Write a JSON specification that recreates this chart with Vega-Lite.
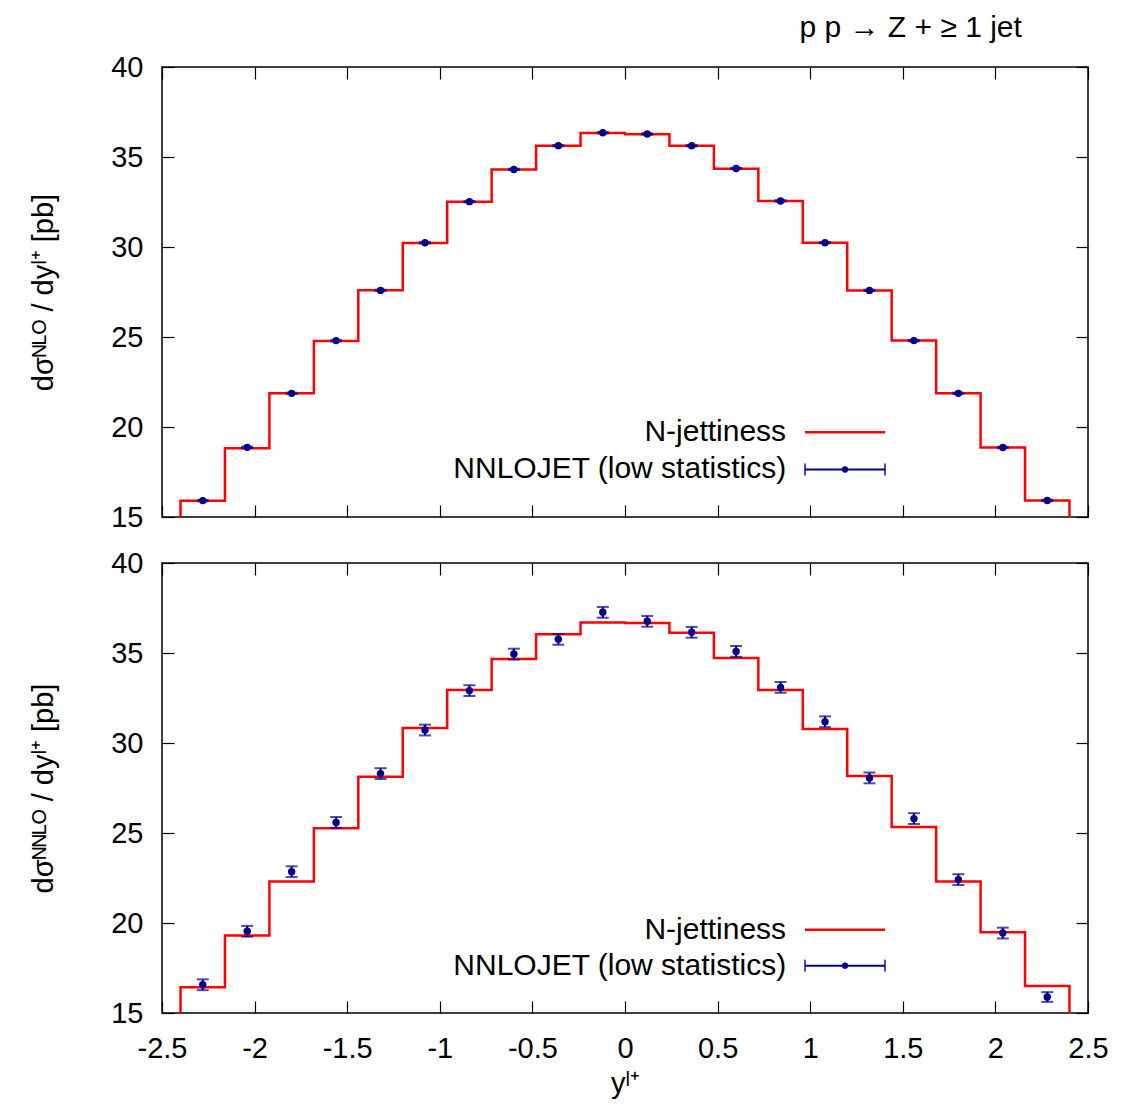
{
  "$schema": "https://vega.github.io/schema/vega-lite/v6.json",
  "padding": {"left": 28, "top": 13, "right": 10, "bottom": 0},
  "config": {
    "font": "Liberation Sans",
    "view": {"stroke": "black", "strokeWidth": 1.5},
    "axis": {
      "grid": false,
      "domain": false,
      "tickColor": "black",
      "tickWidth": 1.2,
      "tickSize": -12,
      "labelFlush": false,
      "labelColor": "black",
      "labelFontSize": 29,
      "titleFontSize": 29,
      "titleFontWeight": "normal",
      "titleColor": "black"
    }
  },
  "title": {
    "text": "p p → Z + ≥ 1 jet",
    "anchor": "end",
    "fontSize": 30,
    "fontWeight": "normal",
    "color": "black",
    "dx": -87,
    "offset": 9
  },
  "spacing": 46,
  "bounds": "flush",
  "datasets": {
    "nlo_hist": [
      {"x": -2.4, "y": 15}, {"x": -2.4, "y": 15.9}, {"x": -2.16, "y": 18.82}, {"x": -1.92, "y": 21.87},
      {"x": -1.68, "y": 24.78}, {"x": -1.44, "y": 27.6}, {"x": -1.2, "y": 30.22}, {"x": -0.96, "y": 32.52},
      {"x": -0.72, "y": 34.3}, {"x": -0.48, "y": 35.63}, {"x": -0.24, "y": 36.33}, {"x": 0, "y": 36.27},
      {"x": 0.24, "y": 35.63}, {"x": 0.48, "y": 34.35}, {"x": 0.72, "y": 32.56}, {"x": 0.96, "y": 30.24},
      {"x": 1.2, "y": 27.58}, {"x": 1.44, "y": 24.8}, {"x": 1.68, "y": 21.87}, {"x": 1.92, "y": 18.86},
      {"x": 2.16, "y": 15.92}, {"x": 2.4, "y": 15.92}, {"x": 2.4, "y": 15}
    ],
    "nlo_pts": [
      {"x": -2.28, "y": 15.91, "lo": 15.87, "hi": 15.95}, {"x": -2.04, "y": 18.87, "lo": 18.83, "hi": 18.91},
      {"x": -1.8, "y": 21.87, "lo": 21.83, "hi": 21.91}, {"x": -1.56, "y": 24.8, "lo": 24.76, "hi": 24.84},
      {"x": -1.32, "y": 27.59, "lo": 27.55, "hi": 27.63}, {"x": -1.08, "y": 30.24, "lo": 30.2, "hi": 30.28},
      {"x": -0.84, "y": 32.52, "lo": 32.48, "hi": 32.56}, {"x": -0.6, "y": 34.31, "lo": 34.27, "hi": 34.35},
      {"x": -0.36, "y": 35.63, "lo": 35.59, "hi": 35.67}, {"x": -0.12, "y": 36.35, "lo": 36.31, "hi": 36.39},
      {"x": 0.12, "y": 36.28, "lo": 36.24, "hi": 36.32}, {"x": 0.36, "y": 35.63, "lo": 35.59, "hi": 35.67},
      {"x": 0.6, "y": 34.36, "lo": 34.32, "hi": 34.4}, {"x": 0.84, "y": 32.56, "lo": 32.52, "hi": 32.6},
      {"x": 1.08, "y": 30.24, "lo": 30.2, "hi": 30.28}, {"x": 1.32, "y": 27.59, "lo": 27.55, "hi": 27.63},
      {"x": 1.56, "y": 24.8, "lo": 24.76, "hi": 24.84}, {"x": 1.8, "y": 21.87, "lo": 21.83, "hi": 21.91},
      {"x": 2.04, "y": 18.86, "lo": 18.82, "hi": 18.9}, {"x": 2.28, "y": 15.92, "lo": 15.88, "hi": 15.96}
    ],
    "nnlo_hist": [
      {"x": -2.4, "y": 15}, {"x": -2.4, "y": 16.43}, {"x": -2.16, "y": 19.3}, {"x": -1.92, "y": 22.3},
      {"x": -1.68, "y": 25.26}, {"x": -1.44, "y": 28.13}, {"x": -1.2, "y": 30.83}, {"x": -0.96, "y": 32.94},
      {"x": -0.72, "y": 34.67}, {"x": -0.48, "y": 36.04}, {"x": -0.24, "y": 36.7}, {"x": 0, "y": 36.67},
      {"x": 0.24, "y": 36.13}, {"x": 0.48, "y": 34.72}, {"x": 0.72, "y": 32.94}, {"x": 0.96, "y": 30.78},
      {"x": 1.2, "y": 28.17}, {"x": 1.44, "y": 25.33}, {"x": 1.68, "y": 22.3}, {"x": 1.92, "y": 19.48},
      {"x": 2.16, "y": 16.5}, {"x": 2.4, "y": 16.5}, {"x": 2.4, "y": 15}
    ],
    "nnlo_pts": [
      {"x": -2.28, "y": 16.57, "lo": 16.27, "hi": 16.87}, {"x": -2.04, "y": 19.54, "lo": 19.24, "hi": 19.84},
      {"x": -1.8, "y": 22.85, "lo": 22.55, "hi": 23.15}, {"x": -1.56, "y": 25.59, "lo": 25.29, "hi": 25.89},
      {"x": -1.32, "y": 28.3, "lo": 28.0, "hi": 28.6}, {"x": -1.08, "y": 30.72, "lo": 30.42, "hi": 31.02},
      {"x": -0.84, "y": 32.91, "lo": 32.61, "hi": 33.21}, {"x": -0.6, "y": 34.94, "lo": 34.64, "hi": 35.24},
      {"x": -0.36, "y": 35.76, "lo": 35.46, "hi": 36.06}, {"x": -0.12, "y": 37.26, "lo": 36.96, "hi": 37.56},
      {"x": 0.12, "y": 36.76, "lo": 36.46, "hi": 37.06}, {"x": 0.36, "y": 36.15, "lo": 35.85, "hi": 36.45},
      {"x": 0.6, "y": 35.09, "lo": 34.79, "hi": 35.39}, {"x": 0.84, "y": 33.09, "lo": 32.79, "hi": 33.39},
      {"x": 1.08, "y": 31.18, "lo": 30.88, "hi": 31.48}, {"x": 1.32, "y": 28.06, "lo": 27.76, "hi": 28.36},
      {"x": 1.56, "y": 25.8, "lo": 25.5, "hi": 26.1}, {"x": 1.8, "y": 22.41, "lo": 22.11, "hi": 22.71},
      {"x": 2.04, "y": 19.44, "lo": 19.14, "hi": 19.74}, {"x": 2.28, "y": 15.89, "lo": 15.62, "hi": 16.16}
    ]
  },
  "vconcat": [
    {
      "width": 926,
      "height": 450,
      "resolve": {"axis": {"x": "independent", "y": "independent"}},
      "layer": [
        {
          "data": {"name": "nlo_hist"},
          "mark": {"type": "line", "interpolate": "step-after", "color": "#ff0000", "strokeWidth": 2.5},
          "encoding": {
            "x": {"field": "x", "type": "quantitative", "scale": {"domain": [-2.5, 2.5], "nice": false, "zero": false},
                  "axis": {"orient": "bottom", "values": [-2.5, -2, -1.5, -1, -0.5, 0, 0.5, 1, 1.5, 2, 2.5], "labels": false, "title": null}},
            "y": {"field": "y", "type": "quantitative", "scale": {"domain": [15, 40], "nice": false, "zero": false},
                  "axis": {"orient": "left", "values": [15, 20, 25, 30, 35, 40], "labelPadding": 31, "titlePadding": 52, "title": "dσᴺᴸᴼ / dyˡ⁺ [pb]"}},
            "order": {"value": null}
          }
        },
        {
          "data": {"name": "nlo_pts"},
          "mark": {"type": "rule", "color": "#00008b", "strokeWidth": 2},
          "encoding": {
            "x": {"field": "x", "type": "quantitative", "axis": null},
            "y": {"field": "lo", "type": "quantitative", "axis": null},
            "y2": {"field": "hi"}
          }
        },
        {
          "data": {"name": "nlo_pts"},
          "mark": {"type": "tick", "orient": "horizontal", "color": "#00008b", "size": 12, "thickness": 2},
          "encoding": {
            "x": {"field": "x", "type": "quantitative", "axis": null},
            "y": {"field": "lo", "type": "quantitative", "axis": null}
          }
        },
        {
          "data": {"name": "nlo_pts"},
          "mark": {"type": "tick", "orient": "horizontal", "color": "#00008b", "size": 12, "thickness": 2},
          "encoding": {
            "x": {"field": "x", "type": "quantitative", "axis": null},
            "y": {"field": "hi", "type": "quantitative", "axis": null}
          }
        },
        {
          "data": {"name": "nlo_pts"},
          "mark": {"type": "circle", "color": "#00008b", "size": 55, "opacity": 1},
          "encoding": {
            "x": {"field": "x", "type": "quantitative",
                  "axis": {"orient": "top", "values": [-2.5, -2, -1.5, -1, -0.5, 0, 0.5, 1, 1.5, 2, 2.5], "labels": false, "title": null}},
            "y": {"field": "y", "type": "quantitative",
                  "axis": {"orient": "right", "values": [15, 20, 25, 30, 35, 40], "labels": false, "title": null}}
          }
        },
        {
          "data": {"values": [{"label": "N-jettiness"}]},
          "mark": {"type": "text", "align": "right", "baseline": "middle", "fontSize": 30, "color": "black"},
          "encoding": {
            "x": {"datum": 0.87, "type": "quantitative", "axis": null},
            "y": {"datum": 19.71, "type": "quantitative", "axis": null},
            "text": {"field": "label"}
          }
        },
        {
          "data": {"values": [{"label": "NNLOJET (low statistics)"}]},
          "mark": {"type": "text", "align": "right", "baseline": "middle", "fontSize": 30, "color": "black"},
          "encoding": {
            "x": {"datum": 0.87, "type": "quantitative", "axis": null},
            "y": {"datum": 17.64, "type": "quantitative", "axis": null},
            "text": {"field": "label"}
          }
        },
        {
          "data": {"values": [{}]},
          "mark": {"type": "rule", "color": "#ff0000", "strokeWidth": 2.5},
          "encoding": {
            "x": {"datum": 0.972, "type": "quantitative", "axis": null},
            "x2": {"datum": 1.404},
            "y": {"datum": 19.71, "type": "quantitative", "axis": null}
          }
        },
        {
          "data": {"values": [{}]},
          "mark": {"type": "rule", "color": "#00008b", "strokeWidth": 2},
          "encoding": {
            "x": {"datum": 0.972, "type": "quantitative", "axis": null},
            "x2": {"datum": 1.404},
            "y": {"datum": 17.64, "type": "quantitative", "axis": null}
          }
        },
        {
          "data": {"values": [{}]},
          "mark": {"type": "tick", "orient": "vertical", "color": "#00008b", "size": 12, "thickness": 2},
          "encoding": {
            "x": {"datum": 0.972, "type": "quantitative", "axis": null},
            "y": {"datum": 17.64, "type": "quantitative", "axis": null}
          }
        },
        {
          "data": {"values": [{}]},
          "mark": {"type": "tick", "orient": "vertical", "color": "#00008b", "size": 12, "thickness": 2},
          "encoding": {
            "x": {"datum": 1.404, "type": "quantitative", "axis": null},
            "y": {"datum": 17.64, "type": "quantitative", "axis": null}
          }
        },
        {
          "data": {"values": [{}]},
          "mark": {"type": "circle", "color": "#00008b", "size": 40, "opacity": 1},
          "encoding": {
            "x": {"datum": 1.188, "type": "quantitative", "axis": null},
            "y": {"datum": 17.64, "type": "quantitative", "axis": null}
          }
        }
      ]
    },
    {
      "width": 926,
      "height": 450,
      "resolve": {"axis": {"x": "independent", "y": "independent"}},
      "layer": [
        {
          "data": {"name": "nnlo_hist"},
          "mark": {"type": "line", "interpolate": "step-after", "color": "#ff0000", "strokeWidth": 2.5},
          "encoding": {
            "x": {"field": "x", "type": "quantitative", "scale": {"domain": [-2.5, 2.5], "nice": false, "zero": false},
                  "axis": {"orient": "bottom", "values": [-2.5, -2, -1.5, -1, -0.5, 0, 0.5, 1, 1.5, 2, 2.5], "labelExpr": "datum.value + ''", "labelPadding": 33, "titlePadding": 6, "title": "yˡ⁺"}},
            "y": {"field": "y", "type": "quantitative", "scale": {"domain": [15, 40], "nice": false, "zero": false},
                  "axis": {"orient": "left", "values": [15, 20, 25, 30, 35, 40], "labelPadding": 31, "titlePadding": 52, "title": "dσᴺᴺᴸᴼ / dyˡ⁺ [pb]"}},
            "order": {"value": null}
          }
        },
        {
          "data": {"name": "nnlo_pts"},
          "mark": {"type": "rule", "color": "#00008b", "strokeWidth": 2},
          "encoding": {
            "x": {"field": "x", "type": "quantitative", "axis": null},
            "y": {"field": "lo", "type": "quantitative", "axis": null},
            "y2": {"field": "hi"}
          }
        },
        {
          "data": {"name": "nnlo_pts"},
          "mark": {"type": "tick", "orient": "horizontal", "color": "#00008b", "size": 12, "thickness": 2},
          "encoding": {
            "x": {"field": "x", "type": "quantitative", "axis": null},
            "y": {"field": "lo", "type": "quantitative", "axis": null}
          }
        },
        {
          "data": {"name": "nnlo_pts"},
          "mark": {"type": "tick", "orient": "horizontal", "color": "#00008b", "size": 12, "thickness": 2},
          "encoding": {
            "x": {"field": "x", "type": "quantitative", "axis": null},
            "y": {"field": "hi", "type": "quantitative", "axis": null}
          }
        },
        {
          "data": {"name": "nnlo_pts"},
          "mark": {"type": "circle", "color": "#00008b", "size": 55, "opacity": 1},
          "encoding": {
            "x": {"field": "x", "type": "quantitative",
                  "axis": {"orient": "top", "values": [-2.5, -2, -1.5, -1, -0.5, 0, 0.5, 1, 1.5, 2, 2.5], "labels": false, "title": null}},
            "y": {"field": "y", "type": "quantitative",
                  "axis": {"orient": "right", "values": [15, 20, 25, 30, 35, 40], "labels": false, "title": null}}
          }
        },
        {
          "data": {"values": [{"label": "N-jettiness"}]},
          "mark": {"type": "text", "align": "right", "baseline": "middle", "fontSize": 30, "color": "black"},
          "encoding": {
            "x": {"datum": 0.87, "type": "quantitative", "axis": null},
            "y": {"datum": 19.63, "type": "quantitative", "axis": null},
            "text": {"field": "label"}
          }
        },
        {
          "data": {"values": [{"label": "NNLOJET (low statistics)"}]},
          "mark": {"type": "text", "align": "right", "baseline": "middle", "fontSize": 30, "color": "black"},
          "encoding": {
            "x": {"datum": 0.87, "type": "quantitative", "axis": null},
            "y": {"datum": 17.63, "type": "quantitative", "axis": null},
            "text": {"field": "label"}
          }
        },
        {
          "data": {"values": [{}]},
          "mark": {"type": "rule", "color": "#ff0000", "strokeWidth": 2.5},
          "encoding": {
            "x": {"datum": 0.972, "type": "quantitative", "axis": null},
            "x2": {"datum": 1.404},
            "y": {"datum": 19.63, "type": "quantitative", "axis": null}
          }
        },
        {
          "data": {"values": [{}]},
          "mark": {"type": "rule", "color": "#00008b", "strokeWidth": 2},
          "encoding": {
            "x": {"datum": 0.972, "type": "quantitative", "axis": null},
            "x2": {"datum": 1.404},
            "y": {"datum": 17.63, "type": "quantitative", "axis": null}
          }
        },
        {
          "data": {"values": [{}]},
          "mark": {"type": "tick", "orient": "vertical", "color": "#00008b", "size": 12, "thickness": 2},
          "encoding": {
            "x": {"datum": 0.972, "type": "quantitative", "axis": null},
            "y": {"datum": 17.63, "type": "quantitative", "axis": null}
          }
        },
        {
          "data": {"values": [{}]},
          "mark": {"type": "tick", "orient": "vertical", "color": "#00008b", "size": 12, "thickness": 2},
          "encoding": {
            "x": {"datum": 1.404, "type": "quantitative", "axis": null},
            "y": {"datum": 17.63, "type": "quantitative", "axis": null}
          }
        },
        {
          "data": {"values": [{}]},
          "mark": {"type": "circle", "color": "#00008b", "size": 40, "opacity": 1},
          "encoding": {
            "x": {"datum": 1.188, "type": "quantitative", "axis": null},
            "y": {"datum": 17.63, "type": "quantitative", "axis": null}
          }
        }
      ]
    }
  ]
}
